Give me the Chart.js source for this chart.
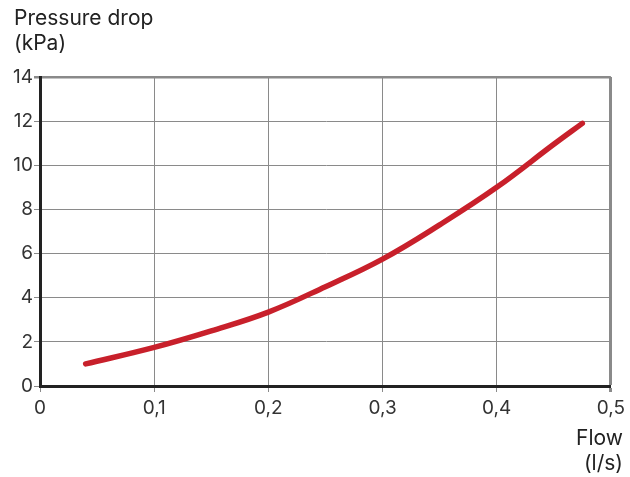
<!DOCTYPE html>
<html>
<head>
<meta charset="utf-8">
<script src="https://cdn.jsdelivr.net/npm/chart.js@4"></script>
<style>
  body { margin: 0; background: #fff; }
  #wrap { width: 630px; height: 477px; position: relative; }
</style>
</head>
<body>
<div id="wrap"><canvas id="chart" width="630" height="477"></canvas></div>
<script>
// flow (l/s) vs pressure drop (kPa)
const flow = [0.04, 0.1, 0.15, 0.2, 0.25, 0.3, 0.35, 0.4, 0.45, 0.475];
const pressure = [1.0, 1.75, 2.5, 3.35, 4.5, 5.75, 7.3, 9.0, 10.95, 11.9];
const yTitle = ["Pressure drop", "(kPa)"];
const xTitle = ["Flow", "(l/s)"];

const FONT = "Inter, 'Open Sans', sans-serif";

// axis titles drawn on the canvas
const titles = {
  id: "titles",
  afterDraw(chart) {
    const c = chart.ctx;
    c.save();
    c.fillStyle = "#222";
    c.font = "21px " + FONT;
    c.textBaseline = "alphabetic";
    c.textAlign = "left";
    c.fillText(yTitle[0], 14, 25);
    c.fillText(yTitle[1], 14, 50);
    c.textAlign = "right";
    c.fillText(xTitle[0], 623, 445);
    c.fillText(xTitle[1], 623, 470);
    c.restore();
  }
};

new Chart(document.getElementById("chart"), {
  type: "line",
  data: {
    datasets: [{
      data: flow.map((x, i) => ({ x: x, y: pressure[i] })),
      borderColor: "#c8202b",
      borderWidth: 5.5,
      borderCapStyle: "round",
      pointRadius: 0,
      tension: 0.4,
      fill: false
    }]
  },
  options: {
    responsive: false,
    animation: false,
    layout: { padding: { top: 77, right: 17, bottom: 0, left: 0 } },
    plugins: { legend: { display: false }, tooltip: { enabled: false } },
    scales: {
      x: {
        type: "linear",
        min: 0, max: 0.5,
        afterFit(s) { s.height = 91; },
        ticks: {
          stepSize: 0.1,
          color: "#333",
          font: { size: 19, family: FONT },
          padding: 5,
          callback: v => v === 0 ? "0" : v.toFixed(1).replace(".", ",")
        },
        grid: {
          color: "#8a8a8a",
          tickColor: "#8a8a8a",
          tickLength: 6,
          lineWidth: ctx => ctx.tick && ctx.tick.value === 0.5 ? 3 : 1
        },
        border: { color: "#222", width: 3 }
      },
      y: {
        min: 0, max: 14,
        afterFit(s) { s.width = 40; },
        ticks: {
          stepSize: 2,
          color: "#333",
          font: { size: 19, family: FONT },
          padding: 1
        },
        grid: {
          color: "#8a8a8a",
          tickColor: "#8a8a8a",
          tickLength: 6,
          lineWidth: ctx => ctx.tick && ctx.tick.value === 14 ? 2.5 : 1
        },
        border: { color: "#222", width: 3 }
      }
    }
  },
  plugins: [titles]
});
</script>
</body>
</html>
